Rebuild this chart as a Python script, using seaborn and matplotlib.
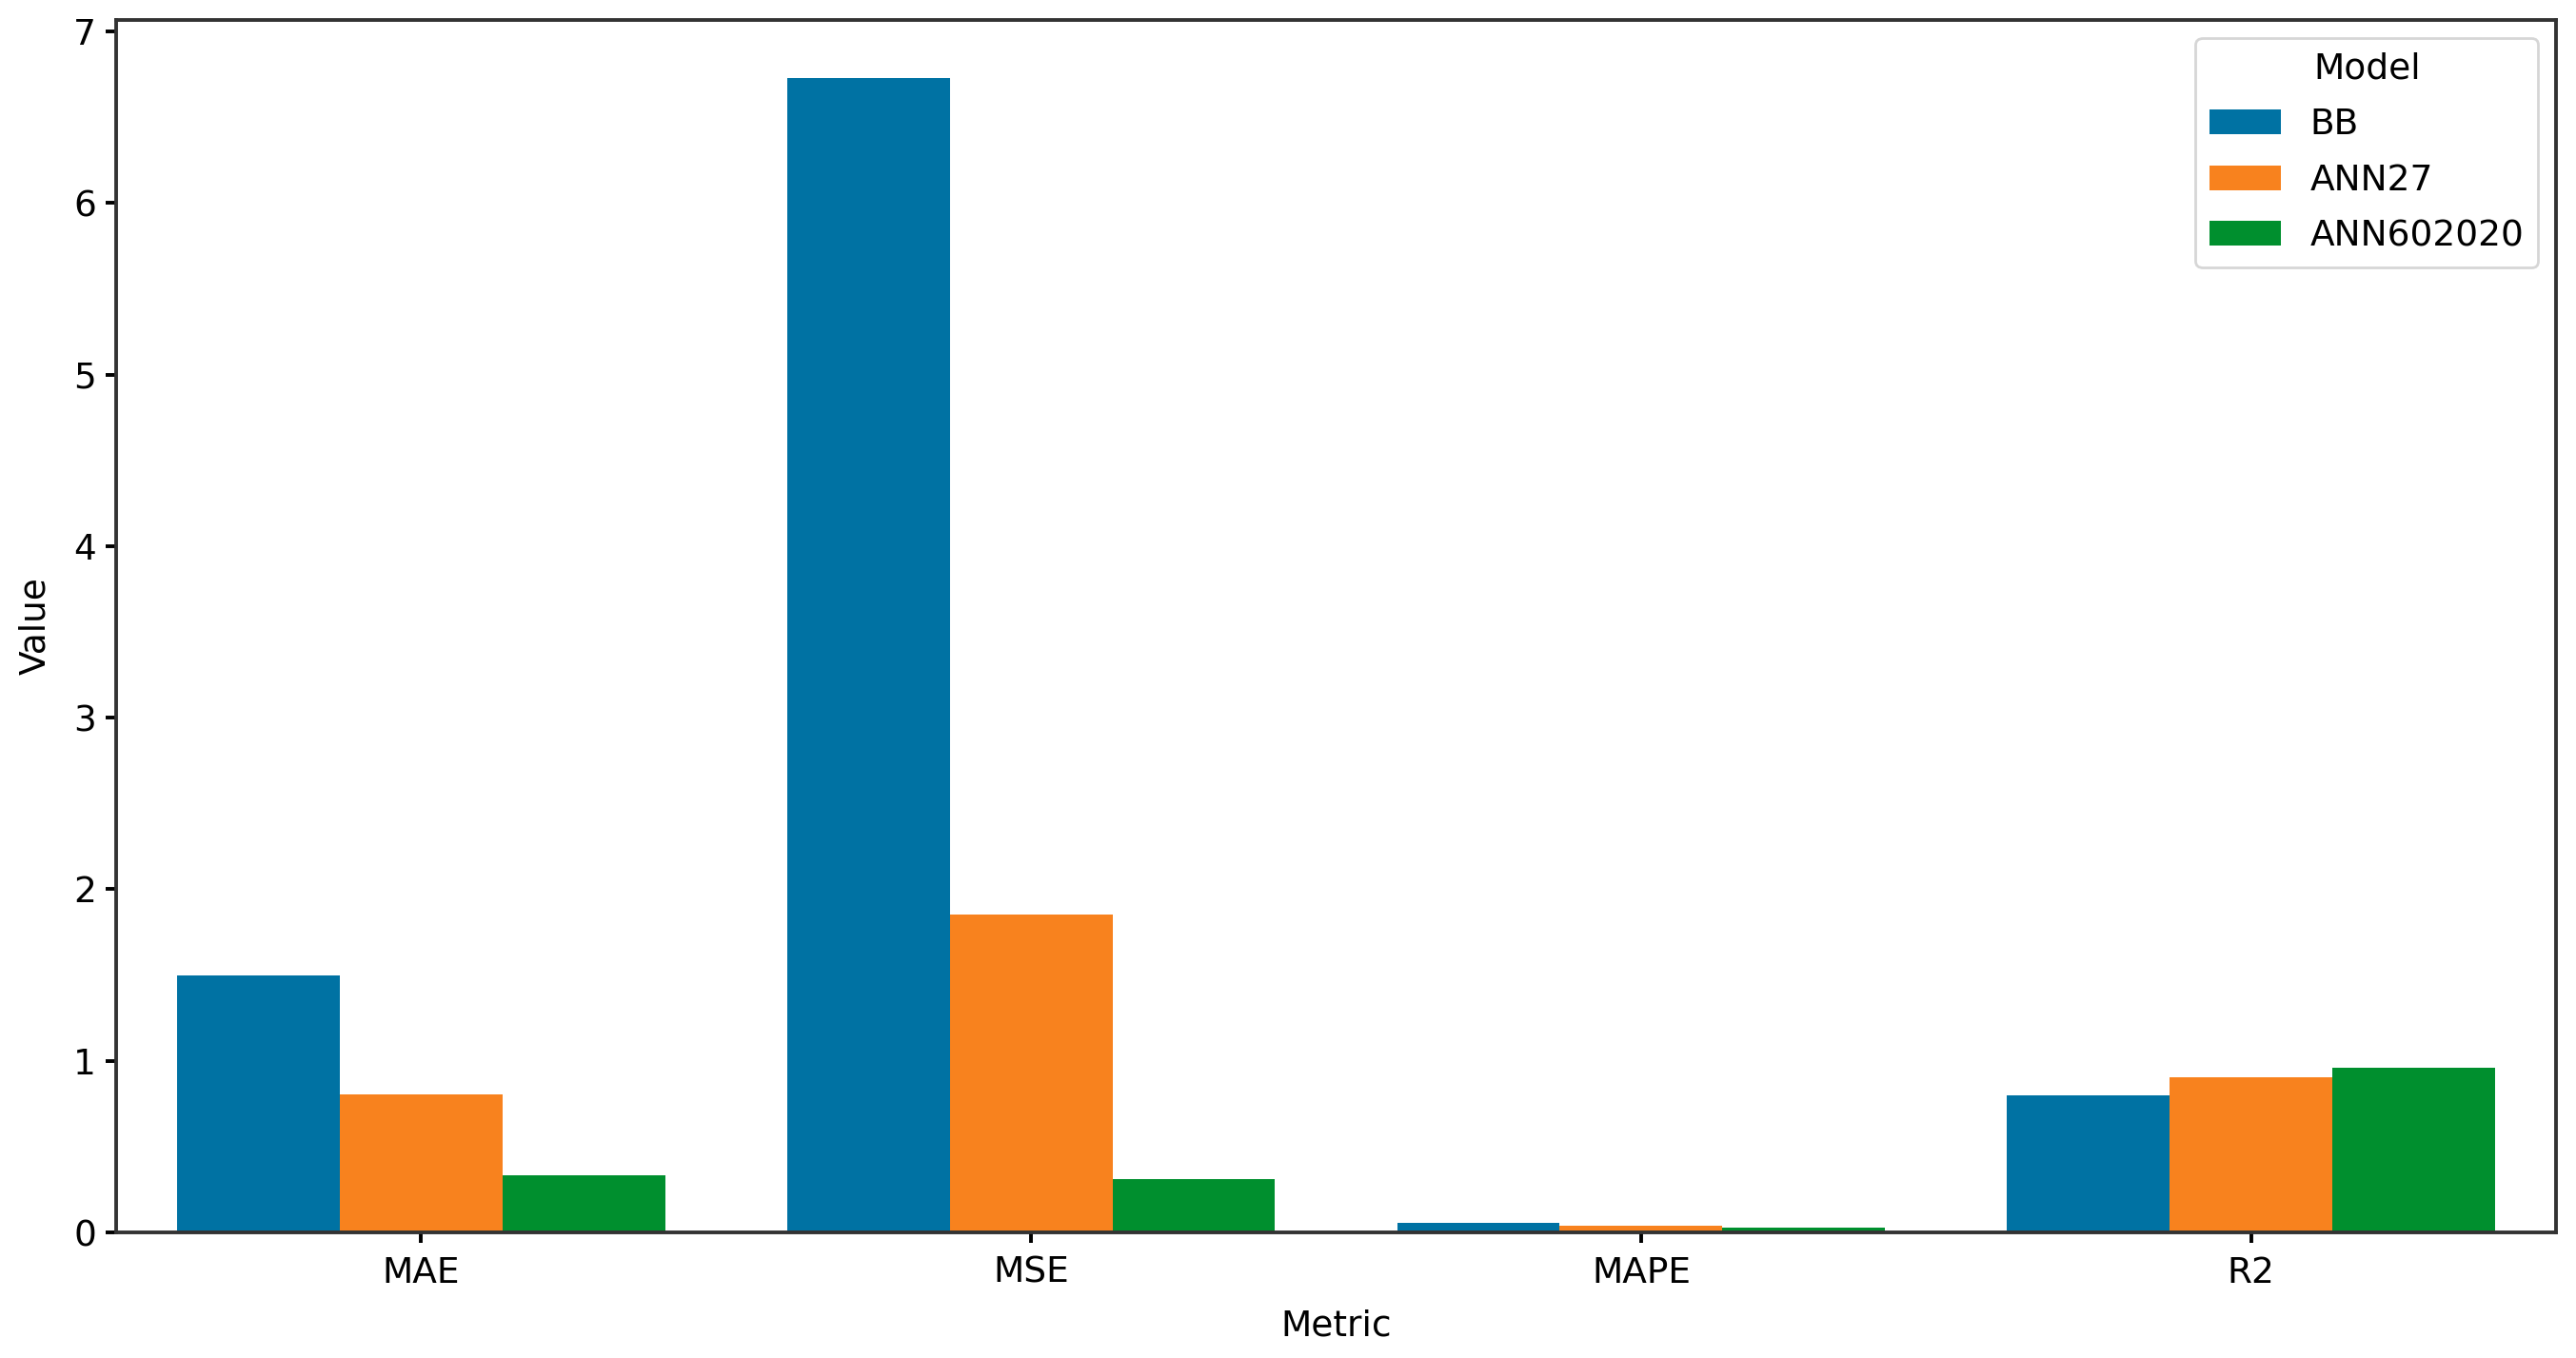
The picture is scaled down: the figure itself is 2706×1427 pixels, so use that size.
import matplotlib
matplotlib.use("Agg")
import matplotlib.pyplot as plt
import seaborn as sns
import pandas as pd

metrics = ["MAE", "MSE", "MAPE", "R2"]
models = ["BB", "ANN27", "ANN602020"]
bb_values = [1.497, 6.73, 0.055, 0.80]
ann27_values = [0.804, 1.85, 0.040, 0.905]
ann602020_values = [0.333, 0.31, 0.027, 0.962]
colors = ["#0072A3", "#F8821E", "#008F2E"]

rows = []
for model, vals in zip(models, [bb_values, ann27_values, ann602020_values]):
    for m, v in zip(metrics, vals):
        rows.append({"Metric": m, "Model": model, "Value": v})
df = pd.DataFrame(rows)

FS = 13.5
plt.rcParams["font.family"] = ["DejaVu Sans"]
plt.rcParams["font.size"] = FS
plt.rcParams["axes.linewidth"] = 1.4
plt.rcParams["axes.edgecolor"] = "#333333"
plt.rcParams["xtick.major.width"] = 1.4
plt.rcParams["ytick.major.width"] = 1.4
plt.rcParams["xtick.major.size"] = 4
plt.rcParams["ytick.major.size"] = 4
plt.rcParams["xtick.major.pad"] = 5

fig = plt.figure(figsize=(2706 / 200, 1427 / 200), dpi=200)
ax = fig.add_axes([122 / 2706, 1 - 1295 / 1427, (2685 - 122) / 2706, (1295 - 21) / 1427])

sns.barplot(data=df, x="Metric", y="Value", hue="Model", order=metrics,
            hue_order=models, palette=colors, saturation=1, ax=ax)

ax.set_xlabel("Metric", fontsize=FS, labelpad=7)
ax.set_ylabel("Value", fontsize=FS, labelpad=8)
ax.tick_params(labelsize=FS)
leg = ax.legend(title="Model", loc="upper right", fontsize=FS, title_fontsize=FS,
                labelspacing=0.6)

fig.savefig("out.png", dpi=200)
